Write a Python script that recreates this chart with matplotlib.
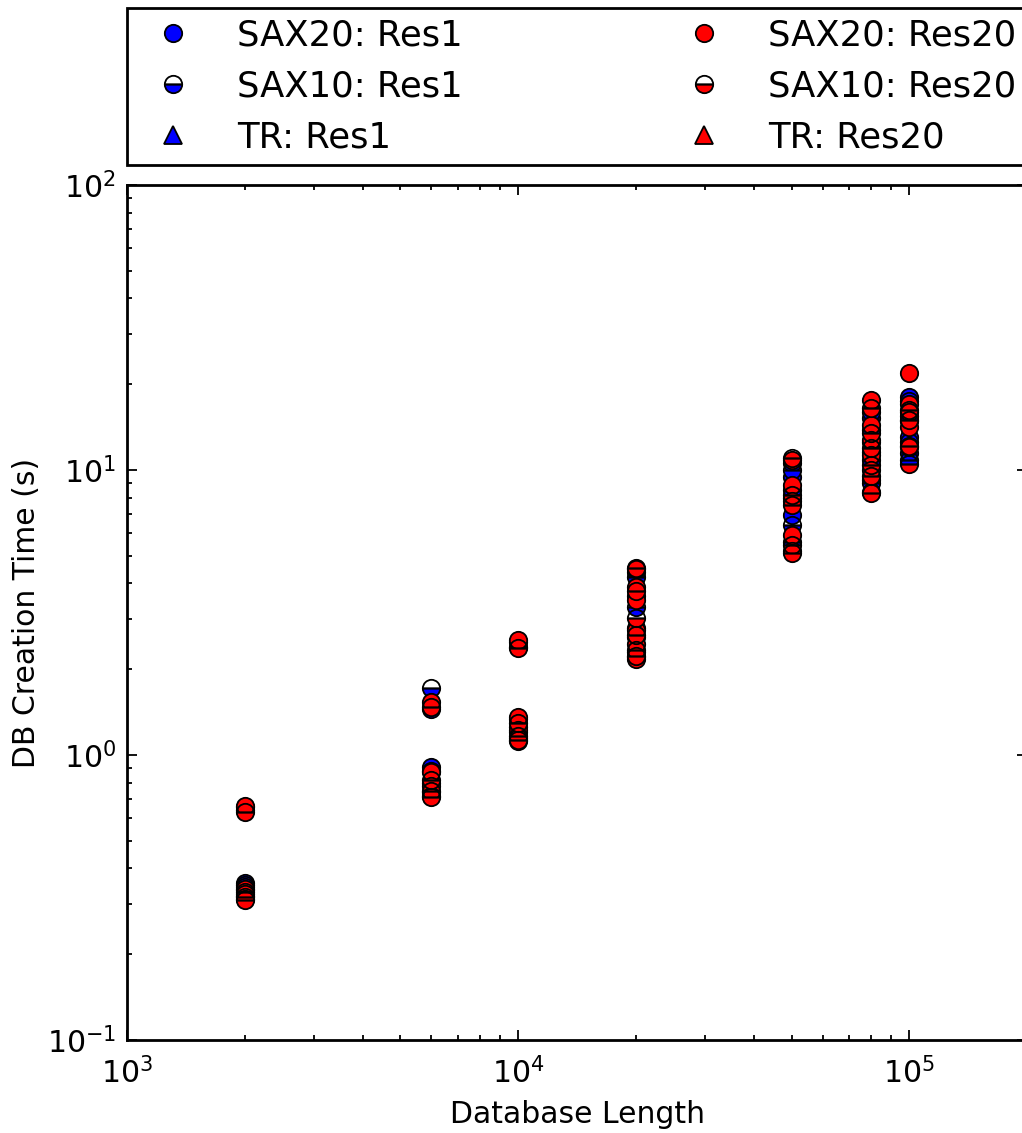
import matplotlib
matplotlib.use("Agg")
import matplotlib.pyplot as plt

# database lengths tested
lengths = [2000, 6000, 10000, 20000, 50000, 80000, 100000]

# creation times (s) for each length, several runs per length
sax20_res1 = [[0.355, 0.345, 0.335, 0.655],
              [1.45, 0.91, 0.80],
              [2.50, 1.34, 1.20],
              [4.4, 3.6, 2.6, 2.2],
              [9.45, 6.95, 10.6, 8.0],
              [15.2, 12.5, 9.2, 10.8],
              [18.0, 13.1, 15.5, 11.5]]
sax10_res1 = [[0.35, 0.32, 0.64],
              [1.72, 0.88, 0.74],
              [2.40, 1.25, 1.12],
              [2.8, 4.2, 3.3, 2.3],
              [6.4, 10.0, 8.5, 5.6],
              [9.0, 13.8, 11.6, 16.0],
              [17.5, 12.5, 14.8, 10.8]]
tr_res1 = [[], [], [], [], [], [], []]
sax20_res20 = [[0.66, 0.34, 0.325, 0.312],
               [1.53, 0.87, 0.78, 0.72],
               [2.53, 1.36, 1.22, 1.15],
               [4.5, 3.9, 3.5, 2.74, 2.45, 2.17],
               [10.8, 8.86, 7.8, 5.9, 5.2],
               [17.6, 14.4, 12.7, 11.3, 10.0, 8.4],
               [21.9, 17.0, 16.0, 14.2, 12.0]]
sax10_res20 = [[0.63, 0.33, 0.318, 0.31],
               [1.47, 0.82, 0.75, 0.71],
               [2.37, 1.30, 1.17, 1.13],
               [4.53, 3.75, 3.03, 2.63, 2.33, 2.22],
               [11.0, 8.2, 7.54, 5.46, 5.1],
               [16.5, 13.5, 11.9, 10.4, 9.5, 8.3],
               [16.3, 15.0, 12.1, 10.5]]
tr_res20 = [[], [], [], [], [], [], []]

series = [("SAX20: Res1", sax20_res1, "b", "o", "full"),
          ("SAX10: Res1", sax10_res1, "b", "o", "bottom"),
          ("TR: Res1", tr_res1, "b", "^", "full"),
          ("SAX20: Res20", sax20_res20, "r", "o", "full"),
          ("SAX10: Res20", sax10_res20, "r", "o", "bottom"),
          ("TR: Res20", tr_res20, "r", "^", "full")]

plt.rcParams['font.family'] = ['DejaVu Sans']
plt.rcParams['font.size'] = 21.5
plt.rcParams['mathtext.default'] = 'regular'
plt.rcParams['axes.unicode_minus'] = False

fig = plt.figure(figsize=(10.22, 11.33), dpi=100)
ax = fig.add_axes([0.1243, 0.0821, 0.8806, 0.7546])

for label, data, col, mk, fs in series:
    xs, ys = [], []
    for L, vals in zip(lengths, data):
        for v in vals:
            xs.append(L)
            ys.append(v)
    # unfilled half of the SAX10 markers stays transparent
    ax.plot(xs, ys, linestyle="none", marker=mk, fillstyle=fs, color=col,
            markerfacecoloralt="none", markeredgecolor="k",
            markeredgewidth=1.3, markersize=12.5, label=label)

ax.set_xscale("log")
ax.set_yscale("log")
ax.set_xlim(1e3, 2e5)
ax.set_ylim(1e-1, 1e2)
ax.set_xlabel("Database Length", labelpad=8)
ax.set_ylabel("DB Creation Time (s)", labelpad=4)

ax.tick_params(which="both", direction="in", top=True, right=True, width=1.3)
ax.tick_params(which="major", length=7.5)
ax.tick_params(which="minor", length=3.8)
ax.tick_params(axis="x", which="major", pad=12)
ax.tick_params(axis="y", which="major", pad=8)
for s in ax.spines.values():
    s.set_linewidth(2)

leg = fig.legend(loc="upper left", bbox_to_anchor=(0.1243, 0.8544, 0.8806, 0.1385),
                 mode="expand", ncol=2, numpoints=1, fontsize=25.5,
                 borderaxespad=0, labelspacing=0.48, handletextpad=0.8,
                 handlelength=2, borderpad=0.3, fancybox=False, framealpha=1)
leg.get_frame().set_edgecolor("k")
leg.get_frame().set_linewidth(2)

fig.savefig("out.png", dpi=100)
